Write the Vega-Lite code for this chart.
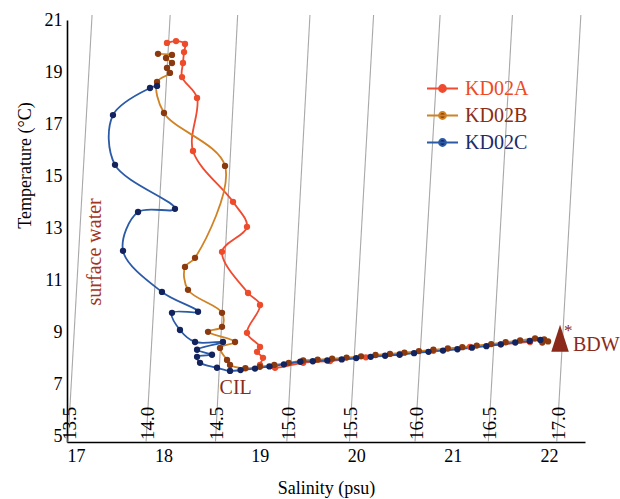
{
  "$schema": "https://vega.github.io/schema/vega-lite/v6.json",
  "width": 518,
  "height": 422,
  "autosize": {"type": "none"},
  "padding": {"left": 67, "top": 20, "right": 35, "bottom": 57},
  "background": "white",
  "config": {
    "view": {"stroke": null},
    "axis": {
      "domainColor": "#000000",
      "domainWidth": 1.6,
      "ticks": false,
      "grid": false,
      "labelFont": "Liberation Serif",
      "labelFontSize": 18,
      "labelColor": "#000000",
      "titleFont": "Liberation Serif",
      "titleFontSize": 18,
      "titleFontWeight": "normal",
      "titleColor": "#000000"
    }
  },
  "datasets": {
    "iso": [
      {"sigma": "13.5", "S": 17.01, "T": 4.8}, {"sigma": "13.5", "S": 17.26, "T": 21.19},
      {"sigma": "14.0", "S": 17.82, "T": 4.8}, {"sigma": "14.0", "S": 18.07, "T": 21.19},
      {"sigma": "14.5", "S": 18.54, "T": 4.8}, {"sigma": "14.5", "S": 18.77, "T": 21.19},
      {"sigma": "15.0", "S": 19.28, "T": 4.8}, {"sigma": "15.0", "S": 19.52, "T": 21.19},
      {"sigma": "15.5", "S": 19.93, "T": 4.8}, {"sigma": "15.5", "S": 20.18, "T": 21.19},
      {"sigma": "16.0", "S": 20.61, "T": 4.8}, {"sigma": "16.0", "S": 20.87, "T": 21.19},
      {"sigma": "16.5", "S": 21.37, "T": 4.8}, {"sigma": "16.5", "S": 21.62, "T": 21.19},
      {"sigma": "17.0", "S": 22.08, "T": 4.8}, {"sigma": "17.0", "S": 22.33, "T": 21.19}
    ],
    "prof": [
      {"id": "KD02A", "i": 1, "S": 18.037, "T": 20.12},
      {"id": "KD02A", "i": 2, "S": 18.131, "T": 20.19},
      {"id": "KD02A", "i": 3, "S": 18.224, "T": 20.08},
      {"id": "KD02A", "i": 4, "S": 18.214, "T": 19.77},
      {"id": "KD02A", "i": 5, "S": 18.203, "T": 19.35},
      {"id": "KD02A", "i": 6, "S": 18.193, "T": 18.81},
      {"id": "KD02A", "i": 7, "S": 18.349, "T": 18.01},
      {"id": "KD02A", "i": 8, "S": 18.307, "T": 15.97},
      {"id": "KD02A", "i": 9, "S": 18.722, "T": 14.02},
      {"id": "KD02A", "i": 10, "S": 18.867, "T": 13.06},
      {"id": "KD02A", "i": 11, "S": 18.608, "T": 12.10},
      {"id": "KD02A", "i": 12, "S": 18.878, "T": 10.52},
      {"id": "KD02A", "i": 13, "S": 19.002, "T": 10.06},
      {"id": "KD02A", "i": 14, "S": 18.867, "T": 8.99},
      {"id": "KD02A", "i": 15, "S": 19.002, "T": 8.45},
      {"id": "KD02A", "i": 16, "S": 18.971, "T": 8.26},
      {"id": "KD02A", "i": 17, "S": 19.033, "T": 8.03},
      {"id": "KD02A", "i": 18, "S": 19.002, "T": 7.76},
      {"id": "KD02A", "i": 19, "S": 19.158, "T": 7.65},
      {"id": "KD02A", "i": 20, "S": 19.45, "T": 7.84},
      {"id": "KD02A", "i": 21, "S": 19.728, "T": 7.91},
      {"id": "KD02A", "i": 22, "S": 20.1, "T": 8.05},
      {"id": "KD02A", "i": 23, "S": 20.454, "T": 8.18},
      {"id": "KD02A", "i": 24, "S": 20.8, "T": 8.3},
      {"id": "KD02A", "i": 25, "S": 21.181, "T": 8.45},
      {"id": "KD02A", "i": 26, "S": 21.5, "T": 8.55},
      {"id": "KD02A", "i": 27, "S": 21.803, "T": 8.64},
      {"id": "KD02B", "i": 1, "S": 17.944, "T": 19.70},
      {"id": "KD02B", "i": 2, "S": 18.089, "T": 19.66},
      {"id": "KD02B", "i": 3, "S": 18.027, "T": 19.54},
      {"id": "KD02B", "i": 4, "S": 18.089, "T": 19.35},
      {"id": "KD02B", "i": 5, "S": 18.037, "T": 19.16},
      {"id": "KD02B", "i": 6, "S": 18.068, "T": 18.97},
      {"id": "KD02B", "i": 7, "S": 17.934, "T": 18.62},
      {"id": "KD02B", "i": 8, "S": 18.006, "T": 17.43},
      {"id": "KD02B", "i": 9, "S": 18.639, "T": 15.40},
      {"id": "KD02B", "i": 10, "S": 18.328, "T": 11.87},
      {"id": "KD02B", "i": 11, "S": 18.224, "T": 11.52},
      {"id": "KD02B", "i": 12, "S": 18.255, "T": 10.64},
      {"id": "KD02B", "i": 13, "S": 18.608, "T": 9.76},
      {"id": "KD02B", "i": 14, "S": 18.608, "T": 9.22},
      {"id": "KD02B", "i": 15, "S": 18.463, "T": 9.03},
      {"id": "KD02B", "i": 16, "S": 18.743, "T": 8.64},
      {"id": "KD02B", "i": 17, "S": 18.587, "T": 8.41},
      {"id": "KD02B", "i": 18, "S": 18.660, "T": 7.95},
      {"id": "KD02B", "i": 19, "S": 18.691, "T": 7.76},
      {"id": "KD02B", "i": 20, "S": 18.85, "T": 7.63},
      {"id": "KD02B", "i": 21, "S": 19.0, "T": 7.69},
      {"id": "KD02B", "i": 22, "S": 19.15, "T": 7.76},
      {"id": "KD02B", "i": 23, "S": 19.3, "T": 7.84},
      {"id": "KD02B", "i": 24, "S": 19.45, "T": 7.93},
      {"id": "KD02B", "i": 25, "S": 19.6, "T": 7.96},
      {"id": "KD02B", "i": 26, "S": 19.75, "T": 8.0},
      {"id": "KD02B", "i": 27, "S": 19.9, "T": 8.04},
      {"id": "KD02B", "i": 28, "S": 20.05, "T": 8.09},
      {"id": "KD02B", "i": 29, "S": 20.2, "T": 8.14},
      {"id": "KD02B", "i": 30, "S": 20.35, "T": 8.18},
      {"id": "KD02B", "i": 31, "S": 20.5, "T": 8.23},
      {"id": "KD02B", "i": 32, "S": 20.65, "T": 8.29},
      {"id": "KD02B", "i": 33, "S": 20.8, "T": 8.34},
      {"id": "KD02B", "i": 34, "S": 20.95, "T": 8.39},
      {"id": "KD02B", "i": 35, "S": 21.1, "T": 8.44},
      {"id": "KD02B", "i": 36, "S": 21.25, "T": 8.5},
      {"id": "KD02B", "i": 37, "S": 21.4, "T": 8.56},
      {"id": "KD02B", "i": 38, "S": 21.55, "T": 8.63},
      {"id": "KD02B", "i": 39, "S": 21.7, "T": 8.7},
      {"id": "KD02B", "i": 40, "S": 21.855, "T": 8.78},
      {"id": "KD02B", "i": 41, "S": 21.95, "T": 8.74},
      {"id": "KD02B", "i": 42, "S": 21.99, "T": 8.66},
      {"id": "KD02B", "i": 43, "S": 21.93, "T": 8.62},
      {"id": "KD02C", "i": 1, "S": 17.934, "T": 18.47},
      {"id": "KD02C", "i": 2, "S": 17.861, "T": 18.39},
      {"id": "KD02C", "i": 3, "S": 17.477, "T": 17.35},
      {"id": "KD02C", "i": 4, "S": 17.498, "T": 15.44},
      {"id": "KD02C", "i": 5, "S": 18.120, "T": 13.75},
      {"id": "KD02C", "i": 6, "S": 17.737, "T": 13.63},
      {"id": "KD02C", "i": 7, "S": 17.581, "T": 12.14},
      {"id": "KD02C", "i": 8, "S": 17.985, "T": 10.56},
      {"id": "KD02C", "i": 9, "S": 18.359, "T": 9.80},
      {"id": "KD02C", "i": 10, "S": 18.089, "T": 9.76},
      {"id": "KD02C", "i": 11, "S": 18.172, "T": 9.10},
      {"id": "KD02C", "i": 12, "S": 18.328, "T": 8.64},
      {"id": "KD02C", "i": 13, "S": 18.618, "T": 8.64},
      {"id": "KD02C", "i": 14, "S": 18.349, "T": 8.34},
      {"id": "KD02C", "i": 15, "S": 18.504, "T": 8.15},
      {"id": "KD02C", "i": 16, "S": 18.349, "T": 8.07},
      {"id": "KD02C", "i": 17, "S": 18.380, "T": 7.84},
      {"id": "KD02C", "i": 18, "S": 18.556, "T": 7.65},
      {"id": "KD02C", "i": 19, "S": 18.691, "T": 7.53},
      {"id": "KD02C", "i": 20, "S": 18.8, "T": 7.56},
      {"id": "KD02C", "i": 21, "S": 18.95, "T": 7.62},
      {"id": "KD02C", "i": 22, "S": 19.1, "T": 7.70},
      {"id": "KD02C", "i": 23, "S": 19.25, "T": 7.78},
      {"id": "KD02C", "i": 24, "S": 19.42, "T": 7.88},
      {"id": "KD02C", "i": 25, "S": 19.55, "T": 7.90},
      {"id": "KD02C", "i": 26, "S": 19.7, "T": 7.93},
      {"id": "KD02C", "i": 27, "S": 19.85, "T": 7.97},
      {"id": "KD02C", "i": 28, "S": 20.0, "T": 8.02},
      {"id": "KD02C", "i": 29, "S": 20.15, "T": 8.07},
      {"id": "KD02C", "i": 30, "S": 20.3, "T": 8.11},
      {"id": "KD02C", "i": 31, "S": 20.45, "T": 8.15},
      {"id": "KD02C", "i": 32, "S": 20.6, "T": 8.21},
      {"id": "KD02C", "i": 33, "S": 20.75, "T": 8.26},
      {"id": "KD02C", "i": 34, "S": 20.9, "T": 8.31},
      {"id": "KD02C", "i": 35, "S": 21.05, "T": 8.36},
      {"id": "KD02C", "i": 36, "S": 21.2, "T": 8.42},
      {"id": "KD02C", "i": 37, "S": 21.35, "T": 8.48},
      {"id": "KD02C", "i": 38, "S": 21.5, "T": 8.55},
      {"id": "KD02C", "i": 39, "S": 21.65, "T": 8.62},
      {"id": "KD02C", "i": 40, "S": 21.8, "T": 8.68},
      {"id": "KD02C", "i": 41, "S": 21.91, "T": 8.72}
    ],
    "notes": [
      {"label": "CIL", "S": 18.75, "T": 6.88},
      {"label": "surface water", "S": 17.29, "T": 12.1},
      {"label": "BDW", "S": 22.114, "T": 8.78}
    ]
  },
  "encoding": {
    "x": {"field": "S", "type": "quantitative", "scale": {"domain": [17, 22.373], "nice": false, "zero": false},
      "axis": {"title": "Salinity (psu)", "values": [17, 18, 19, 20, 21, 22], "labelPadding": 5, "titleY": 46, "titleBaseline": "middle",
        "labelFont": "Liberation Serif", "labelFontSize": 18, "titleFont": "Liberation Serif", "titleFontSize": 18, "titleFontWeight": "normal"}},
    "y": {"field": "T", "type": "quantitative", "scale": {"domain": [4.8, 21], "nice": false, "zero": false},
      "axis": {"title": "Temperature (°C)", "values": [5, 7, 9, 11, 13, 15, 17, 19, 21], "labelPadding": 5, "titleX": -42, "titleY": 145, "titleAngle": 270, "titleBaseline": "middle", "titleAlign": "center",
        "labelFont": "Liberation Serif", "labelFontSize": 18, "titleFont": "Liberation Serif", "titleFontSize": 18, "titleFontWeight": "normal"}}
  },
  "layer": [
    {
      "data": {"name": "iso"},
      "mark": {"type": "line", "color": "#A8A8A8", "strokeWidth": 1.1},
      "encoding": {"detail": {"field": "sigma"}}
    },
    {
      "data": {"name": "iso"},
      "transform": [{"filter": "datum.T < 5"}],
      "mark": {"type": "text", "angle": 270, "align": "left", "baseline": "middle", "dx": 2, "dy": 2, "font": "Liberation Serif", "fontSize": 19, "color": "#000000"},
      "encoding": {"text": {"field": "sigma"}}
    },
    {
      "data": {"name": "prof"},
      "mark": {"type": "line", "strokeWidth": 1.8, "interpolate": "catmull-rom"},
      "encoding": {
        "order": {"field": "i", "type": "quantitative"},
        "stroke": {"field": "id", "type": "nominal",
          "scale": {"domain": ["KD02A", "KD02B", "KD02C"], "range": ["#F04A30", "#D08224", "#2B5AA6"]},
          "legend": {
            "orient": "none", "legendX": 359, "legendY": 52, "title": null, "padding": 0,
            "symbolType": "M-1,0H1M-0.22,0A0.22,0.22 0 1,0 0.22,0A0.22,0.22 0 1,0 -0.22,0Z",
            "symbolSize": 961, "symbolStrokeWidth": 2,
            "labelFont": "Liberation Serif", "labelFontSize": 20, "labelOffset": 6, "rowPadding": 0,
            "encode": {
              "labels": {"update": {"fill": {"signal": "datum.value === 'KD02A' ? '#F04A23' : datum.value === 'KD02B' ? '#8B2E12' : '#1C2B6B'"}}},
              "symbols": {"update": {"fill": {"signal": "datum.value === 'KD02A' ? '#E8452A' : datum.value === 'KD02B' ? '#8B3A0F' : '#13235E'"}}}
            }
          }
        }
      }
    },
    {
      "data": {"name": "prof"},
      "mark": {"type": "point", "filled": true, "size": 40, "opacity": 1},
      "encoding": {
        "fill": {"field": "id", "type": "nominal",
          "scale": {"domain": ["KD02A", "KD02B", "KD02C"], "range": ["#EE4B2B", "#8B3A0F", "#13235E"]},
          "legend": null}
      }
    },
    {
      "data": {"name": "notes"},
      "transform": [{"filter": "datum.label === 'CIL'"}],
      "mark": {"type": "text", "font": "Liberation Serif", "fontSize": 20, "color": "#8B2A1A", "align": "center", "baseline": "middle"},
      "encoding": {"text": {"field": "label"}}
    },
    {
      "data": {"name": "notes"},
      "transform": [{"filter": "datum.label === 'surface water'"}],
      "mark": {"type": "text", "font": "Liberation Serif", "fontSize": 20, "color": "#A3341E", "align": "center", "baseline": "middle", "angle": 270},
      "encoding": {"text": {"field": "label"}}
    },
    {
      "data": {"name": "notes"},
      "transform": [{"filter": "datum.label === 'BDW'"}],
      "mark": {"type": "point", "filled": true, "shape": "M0,-1L0.65,1L-0.65,1Z", "size": 729, "color": "#8B2A1A", "opacity": 1}
    },
    {
      "data": {"name": "notes"},
      "transform": [{"filter": "datum.label === 'BDW'"}],
      "mark": {"type": "text", "text": "*", "font": "Liberation Serif", "fontSize": 17, "color": "#8B2A1A", "align": "left", "baseline": "middle", "dx": 4, "dy": -7}
    },
    {
      "data": {"name": "notes"},
      "transform": [{"filter": "datum.label === 'BDW'"}],
      "mark": {"type": "text", "font": "Liberation Serif", "fontSize": 20, "color": "#8B2A1A", "align": "left", "baseline": "middle", "dx": 13, "dy": 7},
      "encoding": {"text": {"field": "label"}}
    }
  ]
}
